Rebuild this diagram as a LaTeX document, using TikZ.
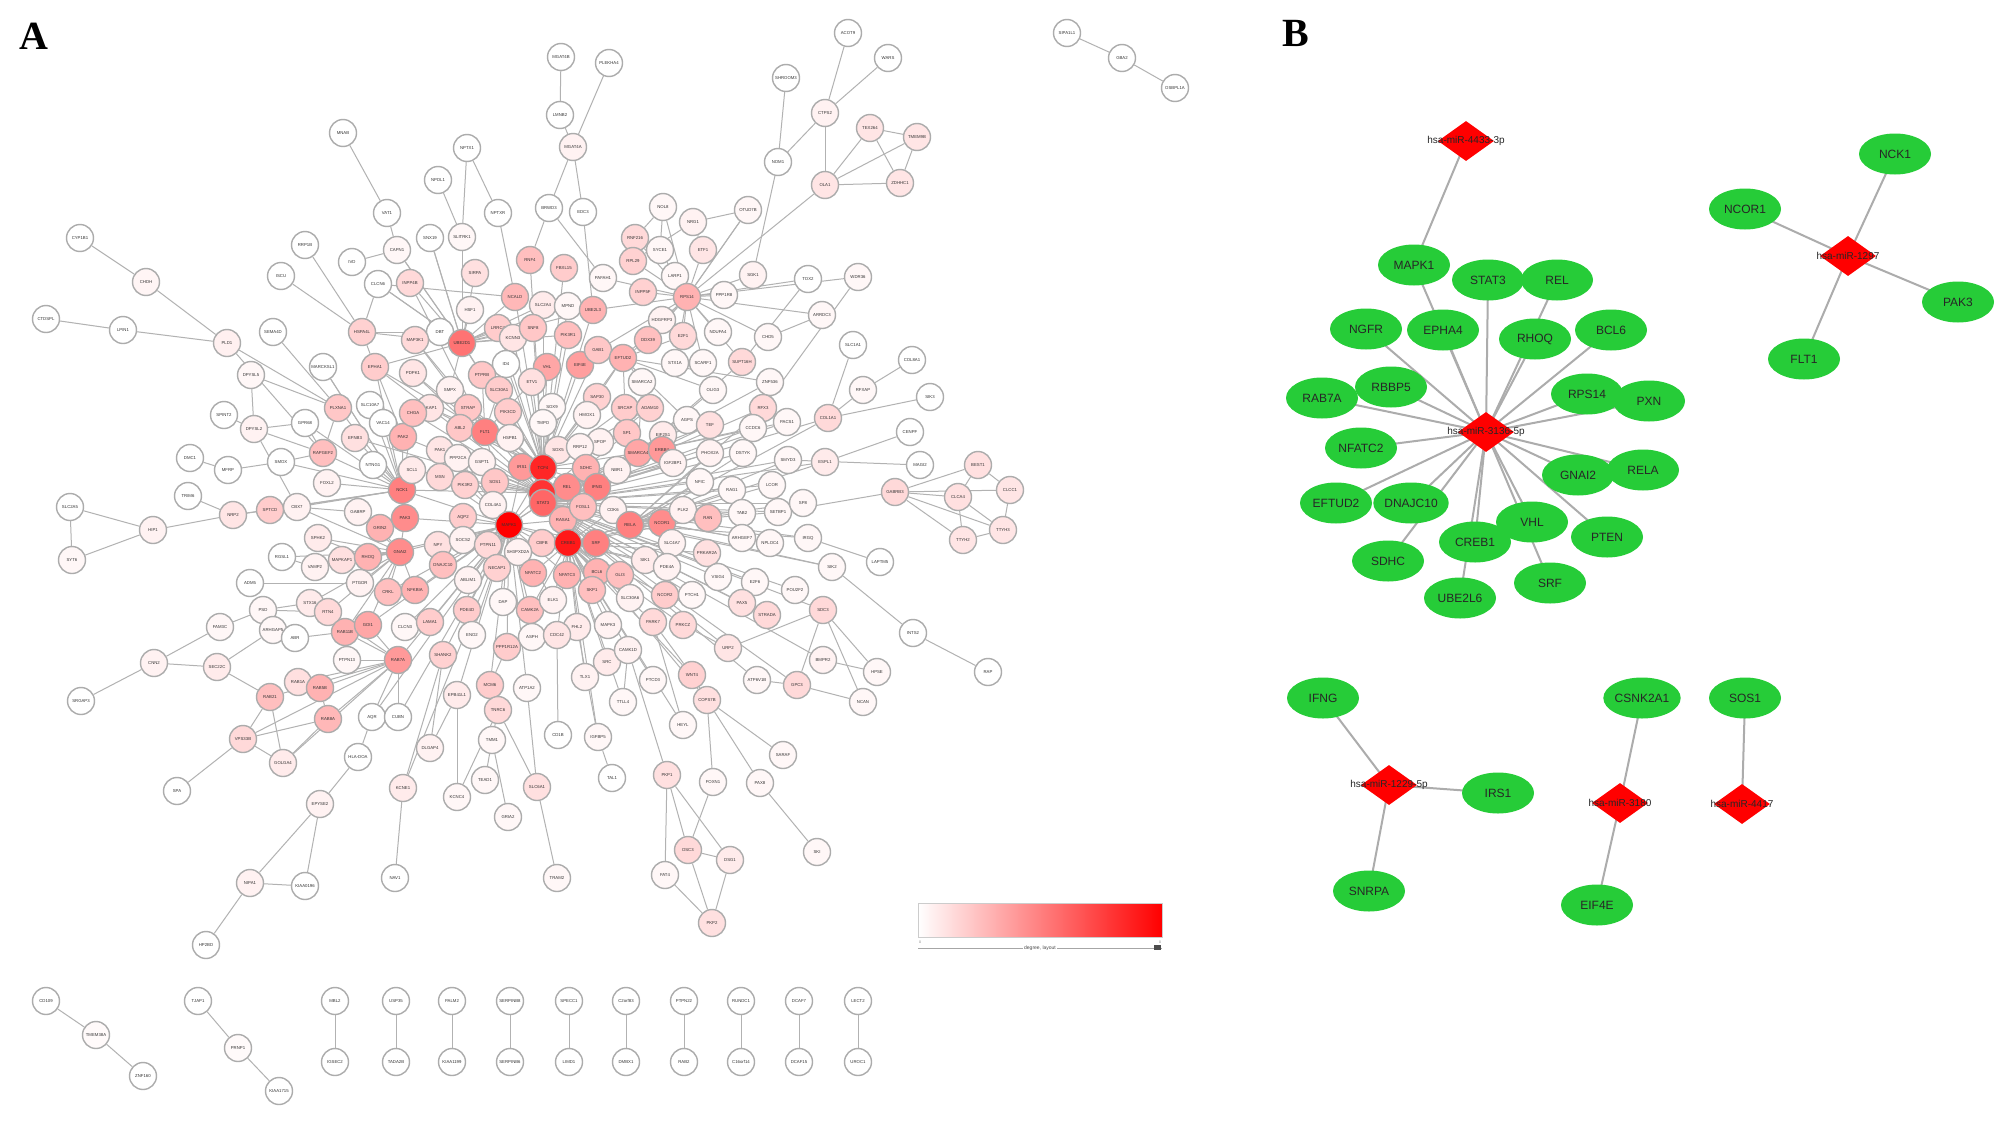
\documentclass[tikz,border=0pt]{standalone}
\usepackage{fontspec}
\setmainfont{Liberation Sans}
\newfontfamily\serifbold{Liberation Serif}
\usetikzlibrary{shapes.geometric,backgrounds}
\definecolor{gnode}{RGB}{38,204,56}
\definecolor{rnode}{RGB}{255,0,0}
\begin{document}
\begin{tikzpicture}[x=1pt,y=-1pt,
  anode/.style={circle,draw=gray!65,line width=1.4pt,minimum size=27pt,inner sep=0pt,
     font=\fontsize{4.3}{4.5}\selectfont,text=black!80},
  edgeA/.style={draw=gray!60,line width=1pt},
  edgeB/.style={draw=gray!65,line width=2pt},
  gell/.style={ellipse,fill=gnode,minimum width=72pt,minimum height=41pt,inner sep=0pt,
     font=\fontsize{12}{12}\selectfont,text=black!85},
  rdia/.style={diamond,fill=rnode,minimum width=56pt,minimum height=40pt,inner sep=0pt},
  dlab/.style={font=\fontsize{10}{10}\selectfont,text=black!85,inner sep=0pt},
  panel/.style={font=\serifbold\bfseries\fontsize{40}{40}\selectfont}
]
\useasboundingbox (0,0) rectangle (2008,1127);
\node[panel] (labA) at (34,36) {A};
\node[panel] (labB) at (1296,33) {B};

% ---------------- Panel A nodes ----------------
\foreach \id/\x/\y/\lab/\s in {
MNAB/343/133/MNAB/0, VAT1/387/213/VAT1/0, CYPB/80/238/CYP1B1/0, CHDH/146/282/CHDH/4,
CTDSPL/46/319/CTDSPL/0, LPIN1/123/330/LPIN1/0, PLD1/227/343/PLD1/6, RRP1B/305/245/RRP1B/0,
IVD/352/262/IVD/0, ISCU/281/276/ISCU/0, CAPN1/397/250/CAPN1/3, CLCN6/378/284/CLCN6/0,
SEMA4D/273/332/SEMA4D/0, HSPA4L/362/332/HSPA4L/18, MARCKSL1/323/367/MARCKSL1/0, DPYSL5/251/375/DPYSL5/3,
EPHA1/375/367/EPHA1/20, PLXNA1/338/408/PLXNA1/22, SLC10A/370/405/SLC10A7/0, VAC14/383/423/VAC14/0,
EFNB3/355/438/EFNB3/12, GPR68/305/423/GPR68/0, DPYSL2/254/429/DPYSL2/5, SPINT/224/415/SPINT2/0,
DMC1/190/458/DMC1/0, MFRP/228/470/MFRP/0, SMOX/281/462/SMOX/0, RAPGEF/323/453/RAPGEF2/25,
NTNG/373/465/NTNG1/0, FOXL2/327/483/FOXL2/5, NCK1/402/490/NCK1/50, PAKA/403/437/PAK2/30,
TRIM6/188/496/TRIM6/0,
SLC2A5/70/507/SLC2A5/0, HIP1/153/530/HIP1/5, SYT6/72/560/SYT6/3, NRP2/233/515/NRP2/10,
SPTCD/270/510/SPTCD/20, CBX7/297/507/CBX7/5, GABRP/358/512/GABRP/5, GRIN/380/528/GRIN2/30,
PAK3/405/518/PAK3/45, GNAI2/400/552/GNAI2/45, SPHK/318/538/SPHK2/8, RGSL1/282/557/RGSL1/0,
VAMP/315/567/VAMP2/5, MAPKAP/342/560/MAPKAP1/12, RHOQ/368/557/RHOQ/30, ADM5/250/583/ADM5/0,
PTGDR/360/583/PTGDR/5, CRKL/388/592/CRKL/25, NFKBIA/415/590/NFKBIA/30, STX16/310/603/STX16/8,
PSD/263/610/PSD/3, RTN/328/612/RTN4/15, FAM3C/220/627/FAM3C/3, ARHGAP/273/630/ARHGAP5/3,
ABR/295/638/ABR/0, RAB11/345/632/RAB11B/30, GDI1/368/625/GDI1/35, CLCN3/405/627/CLCN3/3,
CNN2/154/663/CNN2/5, SEC22C/217/667/SEC22C/8, PTPN13/347/660/PTPN13/3, RAB7A/398/660/RAB7A/40,
SRGAP/81/701/SRGAP3/0, RAB1/298/682/RAB1A/12, RAB5B/320/688/RAB5B/30, RAB21/270/697/RAB21/25,
RAB8A/328/719/RAB8A/28, AQR/372/717/AQR/0, CUBN/398/717/CUBN/0, VPS33/243/739/VPS33B/15,
GOLGA/283/763/GOLGA4/8, HLADOA/358/757/HLA-DOA/0, SPRY2/320/804/EPYSE2/5, KCNE/403/788/KCNE1/8,
SPA/177/791/SPA/0, NIPA1/250/883/NIPA1/5, KIAA/305/886/KIAA0196/0, NAV1/395/878/NAV1/0,
HPGD/206/945/HP2BD/0,
MGATa/561/57/MGAT4B/0, PLEKHA/609/63/PLEKHA4/0, LMNB2/560/115/LMNB2/0, MGATb/573/147/MGAT4A/5,
SHROOM/786/78/SHROOM3/0, CTPS/825/113/CTPS2/5, NOM1/778/162/NOM1/0, OLA1/825/185/OLA1/10,
NPTX1/467/148/NPTX1/0, NPDL1/438/180/NPDL1/0, NPTXR/498/213/NPTXR/0, BRWD/549/208/BRWD3/0,
EDC3/583/212/EDC3/0, SNX19/430/238/SNX19/0, SLITRK/462/237/SLITRK1/3, NOL8/663/207/NOL8/3,
NRG1/693/222/NRG1/5, OTUD/748/210/OTUD7B/3, RNF216/635/238/RNF216/15, SYCE/660/250/SYCE1/3,
ETF1/703/250/ETF1/10, RPL29/633/261/RPL29/18, RNF4/530/260/RNF4/25, FBXL/564/268/FBXL15/20,
PAF/603/278/PAFAH1/3, LARP/675/276/LARP1/3, SGK1/753/275/SGK1/5, TOX2/808/279/TOX2/0,
SIRPA/475/273/SIRPA/12, NCALD/515/297/NCALD/28, RFLP/643/292/INPP5F/18, RPS14/687/297/RPS14/30,
PPP1R8/724/295/PPP1R8/3, HSF1/470/310/HSF1/5, SLC2A4/543/305/SLC2A4/8, MPND/568/306/MPND/3,
UBE2L3/593/310/UBE2L3/30, ARRDC/822/315/ARRDC3/3, DBT/440/332/DBT/0, UBE/462/343/UBE2D1/55,
LRRC/498/328/LRRC4/20, KCNN/513/338/KCNN3/10, SNF8/533/328/SNF8/22, PIK3R1/568/335/PIK3R1/25,
HDGFR/662/320/HDGFRP3/5, DDX/648/340/DDX39/25, E2F1/683/336/E2F1/15, NDUF/718/332/NDUFA4/3,
CHD5/768/337/CHD5/3, ID4/506/364/ID4/0, VHL/547/367/VHL/35, EIF4E/580/365/EIF4E/38,
GAB1/598/350/GAB1/22, EFTUD2/623/358/EFTUD2/30, STX1A/675/363/STX1A/3, SCARF/703/363/SCARF1/3,
SUPT/742/362/SUPT16H/15, PTPRB/482/375/PTPRB/22, ETV1/532/382/ETV1/12, SMARCA2/642/382/SMARCA2/3,
OLIG/713/390/OLIG3/3, ZNF/770/382/ZNF536/3, SMPX/450/390/SMPX/5, SLC30A/499/390/SLC30A1/20,
AKAP/430/408/AKAP1/10, STRAP/468/408/STRAP/22, PIK3CD/508/412/PIK3CD/20, SOX9/552/407/SOX9/3,
SAP30/597/397/SAP30/18, HMOX/587/415/HMOX1/5, SRCAP/625/408/SRCAP/20, ADAM/650/408/ADAM10/18,
AGPS/687/420/AGPS/3, RFX3/763/408/RFX3/15, COL1A1/828/418/COL1A1/15, ABL2/460/428/ABL2/22,
FLT1/485/432/FLT1/50, TMPO/543/423/TMPO/3, TEF/710/425/TEF/12, CCDC/753/428/CCDC6/3,
PACS/787/422/PACS1/3, HSPB/510/438/HSPB1/5, SPOP/600/442/SPOP/5, SP1/627/433/SP1/22,
EIF2/663/435/EIF2S1/8, SOX5/558/450/SOX5/10, RRP12/580/447/RRP12/5, SMARCA4/638/453/SMARCA4/35,
ERBB4/662/450/ERBB4/40, PHOX/710/453/PHOX2A/5, DSTYK/743/453/DSTYK/3, SMYD/788/460/SMYD3/3,
ESPL1/825/462/ESPL1/8, PAK1/440/450/PAK1/10, PPP2/458/458/PPP2CA/5, GSPT/482/462/GSPT1/5,
IRS1/522/467/IRS1/40, TCF/543/468/TCF4/85, SDHC/586/468/SDHC/30, NBR1/617/470/NBR1/5,
IGF2BP/673/463/IGF2BP1/5, MSN/440/477/MSN/15, PIK3R2/465/485/PIK3R2/18, SOS1/495/482/SOS1/22,
REL/567/487/REL/45, IFNG/597/487/IFNG/50, NFIC/700/482/NFIC/3, RAG1/732/490/RAG1/3,
LCOR/772/485/LCOR/3, ESR1/542/493/ESR1/80,
INPP/410/283/INPP4B/15, MAP3K/415/340/MAP3K1/15, PDPK1/413/373/PDPK1/10, CHGA/413/413/CHGA/25,
SCL1/412/470/SCL1/8,
COL4/493/505/COL4A1/5, AQP2/463/517/AQP2/20, MAPK1/509/525/MAPK1/100, STAT3/543/503/STAT3/60,
RASA1/563/520/RASA1/30, FOSL1/583/507/FOSL1/25, CDK6/613/510/CDK6/5, RELA/630/525/RELA/50,
NCOR1/662/523/NCOR1/45, PLK2/683/510/PLK2/5, RAN/708/518/RAN/25, TAB2/742/513/TAB2/3,
SETBP1/778/512/SETBP1/3, SP8/803/503/SP8/3, NPY/438/545/NPY/12, SOCS2/463/540/SOCS2/5,
PTPN11/488/545/PTPN11/15, CBFB/542/543/CBFB/20, CREB1/568/543/CREB1/90, SRF/596/543/SRF/50,
SH3/518/552/SH3PXD2A/5, SLC4A7/672/543/SLC4A7/5, PRKAR/707/553/PRKAR2A/12, ARHGEF/742/538/ARHGEF7/3,
NPL/770/543/NPLOC4/3, IRGQ/808/538/IRGQ/3, SIK2/832/567/SIK2/3, DNAJC10/443/565/DNAJC10/25,
NECAP/497/568/NECAP1/18, NFATC2/533/573/NFATC2/30, NFATC3/567/575/NFATC3/30, BCL6/597/572/BCL6/30,
GLI3/620/575/GLI3/25, SIK1/645/560/SIK1/8, PDE4A/667/567/PDE4A/5, VSIG4/718/577/VSIG4/3,
E2F6/755/582/E2F6/3, POU2F/795/590/POU2F2/3, SDC3/823/610/SDC3/15, ABLIM/468/580/ABLIM1/5,
SKP1/592/590/SKP1/25, SLC30/630/598/SLC30A6/5, NCOR2/665/595/NCOR2/20, PTCH1/692/595/PTCH1/3,
PAX5/742/603/PAX5/12, STRADA/767/615/STRADA/15, DAP/503/602/DAP/3, CAMK2A/530/610/CAMK2A/25,
ELK1/553/600/ELK1/5, PDE4D/467/610/PDE4D/20, LAMA1/430/622/LAMA1/20, FHL2/577/627/FHL2/8,
MAPK3/608/625/MAPK3/5, PARK7/653/622/PARK7/15, PRKCZ/683/625/PRKCZ/15, ENO2/472/635/ENO2/3,
ASPH/532/637/ASPH/3, CDC42/557/635/CDC42/10, PPP1R12/507/647/PPP1R12A/20, URP2/728/648/URP2/10,
SHANK2/443/655/SHANK2/18, SRC/607/662/SRC/8, CAMK1D/628/650/CAMK1D/5, BMPR2/823/660/BMPR2/5,
TLX1/585/677/TLX1/5, PTCD3/653/680/PTCD3/3, WNT4/692/675/WNT4/18, ATP6V/757/680/ATP6V1B/3,
GPC3/797/685/GPC3/15, MCM6/490/685/MCM6/20, ATP1A2/527/688/ATP1A2/3, EPB41L1/457/695/EPB41L1/8,
TTLL4/623/702/TTLL4/3, COPS7/707/700/COPS7B/12, TNRC6/498/710/TNRC6/15, HEYL/683/725/HEYL/3,
TBM1/492/740/TMM1/3, CD1B/558/735/CD1B/0, IGFBP5/598/737/IGFBP5/3, DLGAP/430/748/DLGAP4/5,
SARAF/783/755/SARAF/3, TEAD1/485/780/TEAD1/3, TAL1/612/778/TAL1/0, PKP1/667/775/PKP1/12,
FOXN1/713/782/FOXN1/3, PAX8/760/783/PAX8/3, KCNC4/457/797/KCNC4/3, SLC6A1/537/787/SLC6A1/12,
GRIA2/508/817/GRIA2/3, DSC3/688/850/DSC3/15, DSG1/730/860/DSG1/8, SKI/817/852/SKI/3,
TRAM2/557/878/TRAM2/3, FAT4/665/875/FAT4/3, PKP2/712/923/PKP2/12,
ACOT9/848/33/ACOT9/0, WARS/888/58/WARS/0, TEX264/870/128/TEX264/10, TMEM9B/917/137/TMEM9B/10,
ZDHHC1/900/183/ZDHHC1/10, WDR36/858/277/WDR36/3, SLC1A1/853/345/SLC1A1/0, COL8A1/912/360/COL8A1/0,
RFXAP/863/390/RFXAP/3, SIK3/930/397/SIK3/0, CENPF/910/432/CENPF/0, MAGI2/920/465/MAGI2/0,
BEST1/978/465/BEST1/12, CLCC1/1010/490/CLCC1/10, GABRB/895/492/GABRB3/15, CLCA/958/497/CLCA4/12,
TTYH2/963/540/TTYH2/10, TTYH3/1003/530/TTYH3/10, LAPTM5/880/562/LAPTM5/0, INTS2/913/633/INTS2/0,
RAP/988/672/RAP/0, HPSE/877/672/HPSE/3, NCAN/863/702/NCAN/3,
SIPA/1067/33/SIPA1L1/0, GBA2/1122/58/GBA2/0, OSBPL/1175/88/OSBPL1A/0,
Qa/46/1001/CD109/0, Qb/96/1035/TMEM38A/2, Qc/143/1076/ZNF160/0,
Qd/198/1001/TJAP1/0, Qe/238/1048/PRNP1/2, Qf/279/1091/KIAA1715/0,
Qg1/335/1001/MBL2/0, Qg2/335/1062/IGSEC2/0, Qh1/396/1001/USP35/0, Qh2/396/1062/TADA2B/0,
Qi1/452/1001/PALM2/0, Qi2/452/1062/KIAA1199/0, Qj1/510/1001/SERPINB8/0, Qj2/510/1062/SERPINB6/0,
Qk1/569/1001/SPECC1/0, Qk2/569/1062/LIMD1/0, Ql1/626/1001/C2orf83/0, Ql2/626/1062/DMBX1/0,
Qm1/684/1001/PTPN22/0, Qm2/684/1062/RAB2/0, Qn1/741/1001/RUNDC1/0, Qn2/741/1062/C16orf14/0,
Qo1/799/1001/DCAF7/0, Qo2/799/1062/DCAF15/0, Qp1/858/1001/LECT2/0, Qp2/858/1062/UROC1/0}
  \node[anode,fill=red!\s!white] (\id) at (\x,\y) {\lab};

% ---------------- Panel B nodes ----------------
\node[rdia] (D4433) at (1466,141) {};
\node[dlab] at (D4433) {hsa-miR-4433-3p};
\node[rdia] (D3136) at (1486,432) {};
\node[dlab] at (D3136) {hsa-miR-3136-5p};
\node[rdia] (D1297) at (1848,256) {};
\node[dlab] at (D1297) {hsa-miR-1297};
\node[rdia] (D1229) at (1389,785) {};
\node[dlab] at (D1229) {hsa-miR-1229-5p};
\node[rdia] (D3180) at (1620,803) {};
\node[dlab] at (D3180) {hsa-miR-3180};
\node[rdia] (D4417) at (1742,804) {};
\node[dlab] at (D4417) {hsa-miR-4417};

\foreach \id/\x/\y/\lab in {
bMAPK1/1414/265/MAPK1, bSTAT3/1488/280/STAT3, bREL/1557/280/REL, bNGFR/1366/329/NGFR,
bEPHA4/1443/330/EPHA4, bRHOQ/1535/339/RHOQ, bBCL6/1611/330/BCL6, bRBBP5/1391/387/RBBP5,
bRAB7A/1322/398/RAB7A, bRPS14/1587/394/RPS14, bPXN/1649/401/PXN, bNFATC2/1361/448/NFATC2,
bGNAI2/1578/475/GNAI2, bRELA/1643/470/RELA, bEFTUD2/1336/503/EFTUD2, bDNAJC10/1411/503/DNAJC10,
bVHL/1532/522/VHL, bPTEN/1607/537/PTEN, bCREB1/1475/542/CREB1, bSDHC/1388/561/SDHC,
bSRF/1550/583/SRF, bUBE2L6/1460/598/UBE2L6,
bNCK1/1895/154/NCK1, bNCOR1/1745/209/NCOR1, bPAK3/1958/302/PAK3, bFLT1/1804/359/FLT1,
bIFNG/1323/698/IFNG, bIRS1/1498/793/IRS1, bSNRPA/1369/891/SNRPA,
bCSNK2A1/1642/698/CSNK2A1, bEIF4E/1597/905/EIF4E, bSOS1/1745/698/SOS1}
  \node[gell] (\id) at (\x,\y) {\lab};

% ---------------- Legend ----------------
\shade[left color=white,right color=rnode,draw=gray!40,line width=0.6pt] (918,903) rectangle (1162,937);
\node[font=\fontsize{3.5}{4}\selectfont,text=gray,inner sep=0pt] (lg0) at (920,942) {0};
\node[font=\fontsize{3.5}{4}\selectfont,text=gray,inner sep=0pt] (lg1) at (1160,942) {0};
\coordinate (axL) at (918,948);
\coordinate (axR) at (1162,948);
\draw[gray!70,line width=0.8pt] (axL) -- (axR);
\fill[black!70] (1154,945) rectangle (1161,950);
\node[fill=white,font=\fontsize{5}{5}\selectfont,text=black!70,inner sep=1pt] (lgt) at (1040,948) {degree, layout};

% ---------------- Edges ----------------
\begin{scope}[on background layer]
\fill[white] (0,0) rectangle (2008,1127);
\foreach \a/\b in {
MNAB/VAT1, VAT1/CAPN1, CYPB/CHDH, CHDH/PLD1, CTDSPL/LPIN1, LPIN1/PLD1, PLD1/PLXNA1, PLD1/RAPGEF,
RRP1B/HSPA4L, ISCU/HSPA4L, HSPA4L/CLCN6, HSPA4L/DBT, HSPA4L/EPHA1, IVD/CAPN1, CAPN1/UBE, CLCN6/UBE,
CLCN6/NCALD, SEMA4D/PLXNA1, MARCKSL1/NCK1, DPYSL5/DPYSL2, DPYSL5/PLXNA1, EPHA1/UBE, EPHA1/PAKA,
PLXNA1/RAPGEF, SPINT/DPYSL2, DPYSL2/RAPGEF, DPYSL2/GPR68, DPYSL2/CBX7, DMC1/MFRP, MFRP/SMOX,
SMOX/RAPGEF, GPR68/RAPGEF, TRIM6/NRP2, SLC2A5/SYT6, SLC2A5/HIP1, SYT6/HIP1, HIP1/NRP2, NRP2/SPTCD,
SPTCD/CBX7, CBX7/GABRP, GABRP/GRIN, GRIN/PAK3, SPHK/RHOQ, RGSL1/VAMP, VAMP/RHOQ, MAPKAP/RHOQ,
ADM5/PTGDR, STX16/PSD, STX16/RAB11, FAM3C/PSD, FAM3C/CNN2, CNN2/SEC22C, SRGAP/CNN2, SEC22C/ARHGAP,
SEC22C/RAB21, ARHGAP/ABR, ABR/RAB11, PSD/RTN, RTN/RAB11,
VPS33/SPA, VPS33/RAB21, VPS33/RAB8A, VPS33/GOLGA, GOLGA/RAB21, GOLGA/RAB8A, RAB1/RAB5B, RAB5B/RAB8A,
HLADOA/SPRY2, HLADOA/AQR, SPRY2/NIPA1, SPRY2/KIAA, NIPA1/KIAA, NIPA1/HPGD, KCNE/NAV1, KCNE/SHANK2,
MGATa/LMNB2, LMNB2/MGATb, PLEKHA/MGATb, MGATb/BRWD, MGATb/EDC3, SHROOM/NOM1, CTPS/NOM1, CTPS/OLA1,
ACOT9/CTPS, WARS/CTPS, NOM1/SGK1, OLA1/RPS14, NPTX1/SLITRK, NPTX1/NPTXR, NPDL1/SLITRK, NPTXR/NCALD,
SNX19/UBE, SLITRK/UBE, BRWD/RNF4, BRWD/PAF, EDC3/UBE2L3, NOL8/SYCE, NOL8/RNF216, NRG1/ETF1,
NRG1/RPL29, OTUD/RPS14, OTUD/NRG1, TEX264/TMEM9B, TEX264/ZDHHC1, TMEM9B/ZDHHC1, TEX264/OLA1,
TMEM9B/OLA1, ZDHHC1/OLA1, TOX2/SUPT, ARRDC/CHD5, WDR36/RFX3, COL8A1/RFXAP, RFXAP/COL1A1,
SIK3/COL1A1, CENPF/ESPL1, MAGI2/SMYD, SLC1A1/COL1A1,
GABRB/BEST1, GABRB/CLCC1, GABRB/TTYH2, GABRB/CLCA, GABRB/TTYH3, BEST1/CLCA, BEST1/CLCC1,
CLCA/TTYH2, CLCA/TTYH3, CLCC1/TTYH3, TTYH2/TTYH3, GABRB/SETBP1, LAPTM5/IRGQ, INTS2/RAP,
INTS2/SIK2, HPSE/SDC3, NCAN/SDC3, HPSE/BMPR2, NCAN/GPC3,
CD1B/CDC42, IGFBP5/FHL2, TAL1/IGFBP5, TBM1/TNRC6, TBM1/TEAD1, GRIA2/TBM1, TNRC6/MCM6,
MCM6/PPP1R12, TRAM2/SLC6A1, SLC6A1/ATP1A2, SLC6A1/TNRC6, KCNC4/EPB41L1, DLGAP/EPB41L1,
DLGAP/SHANK2, KCNC4/TNRC6, PKP1/DSC3, PKP1/DSG1, PKP1/FAT4, PKP1/CAMK1D, FAT4/PKP2, DSC3/DSG1,
DSC3/PKP2, DSG1/PKP2, FOXN1/DSC3, FOXN1/COPS7, PAX8/SKI, PAX8/COPS7, SARAF/COPS7, HEYL/PARK7,
COPS7/WNT4, WNT4/PARK7, ATP6V/GPC3, URP2/SDC3, URP2/PRKCZ, GPC3/SDC3, SIPA/GBA2, GBA2/OSBPL,
TLX1/SRC, TTLL4/CAMK1D,
Qa/Qb, Qb/Qc, Qd/Qe, Qe/Qf, Qg1/Qg2, Qh1/Qh2, Qi1/Qi2, Qj1/Qj2, Qk1/Qk2, Ql1/Ql2, Qm1/Qm2,
Qn1/Qn2, Qo1/Qo2, Qp1/Qp2}
  \draw[edgeA] (\a) -- (\b);
\foreach \t in {RAB1,RAB5B,RAB21,RAB8A,VPS33,GOLGA,AQR,CUBN,RAB11,GDI1,PTPN13,RTN}
  \draw[edgeA] (RAB7A) -- (\t);
\foreach \t in {PAK3,GNAI2,NFKBIA,CRKL,RAB7A,NCK1,FLT1,IRS1,TCF,ESR1,STAT3,CREB1,AQP2,NPY,SOCS2,
  PTPN11,SH3,CBFB,DNAJC10,NECAP,NFATC2,ABLIM,DAP,PDE4D,LAMA1,CAMK2A,ELK1,ENO2,ASPH,PPP1R12,SHANK2,
  MCM6,ATP1A2,EPB41L1,SOS1,PIK3R2,MSN,PAK1,PPP2,GSPT,COL4,RASA1,REL,SRF,GDI1,RHOQ,CLCN3,CUBN,
  NFATC3,KCNE,AQR}
  \draw[edgeA] (MAPK1) -- (\t);
\foreach \t in {TCF,ESR1,STAT3,RELA,NCOR1,SRF,BCL6,GLI3,SKP1,SLC30,NCOR2,FHL2,MAPK3,SRC,CAMK1D,
  TLX1,PTCD3,CDC42,FOSL1,CDK6,RASA1,IFNG,REL,SDHC,NBR1,SIK1,PDE4A,PLK2,RAN,SLC4A7,PRKAR,PARK7,
  PRKCZ,WNT4,TTLL4,NFATC2,NFATC3,CBFB,SH3,ELK1,CAMK2A,HEYL,IGFBP5}
  \draw[edgeA] (CREB1) -- (\t);
\foreach \t in {UBE,FLT1,VHL,EIF4E,ID4,ETV1,SLC30A,PIK3CD,SOX9,SAP30,HMOX,TMPO,HSPB,SPOP,SP1,SOX5,
  RRP12,IRS1,SDHC,REL,IFNG,ABL2,STRAP,AKAP,SMPX,PTPRB,PIK3R1,SNF8,KCNN,LRRC,NCALD,GAB1,EFTUD2,
  UBE2L3,MPND,SLC2A4,FBXL,RNF4,ESR1,SRCAP,ADAM,SMARCA4}
  \draw[edgeA] (TCF) -- (\t);
\foreach \t in {NCK1,PAKA,CHGA,SCL1,PDPK1,MAP3K,EPHA1,EFNB3,MSN,PIK3R2,SOS1,PAK1,PPP2,GSPT,IRS1,
  RASA1,FOSL1,STAT3,SMARCA4,ERBB4,NBR1,IGF2BP,ADAM}
  \draw[edgeA] (ESR1) -- (\t);
\foreach \t in {RELA,NCOR1,SMARCA4,ERBB4,EIF2,SP1,IGF2BP,PHOX,DSTYK,RFX3,COL1A1,TEF,CCDC,PACS,SMYD,
  ESPL1,NFIC,RAG1,LCOR,TAB2,SETBP1,SP8,IRGQ,SIK2,ARHGEF,NPL,VSIG4,E2F6,POU2F,SDC3,PAX5,STRADA,URP2,
  PTCH1,BMPR2,ATP6V,GPC3,COPS7}
  \draw[edgeA] (STAT3) -- (\t);
\foreach \t in {DBT,HSF1,SIRPA,SNX19,SLITRK,CAPN1,CLCN6,INPP,HSPA4L,NCALD,LRRC,KCNN,SNF8,PIK3R1,
  SLC2A4,MPND,UBE2L3,PTPRB,SMPX}
  \draw[edgeA] (UBE) -- (\t);
\foreach \t in {NOL8,RNF216,SYCE,ETF1,RPL29,LARP,PPP1R8,RFLP,HDGFR,DDX,E2F1,NDUF,CHD5,GAB1,EFTUD2,
  SGK1,STX1A,SCARF,SUPT,OTUD,PAF,UBE2L3,TOX2,ARRDC,WDR36}
  \draw[edgeA] (RPS14) -- (\t);
\foreach \t in {DDX,E2F1,SMARCA2,OLIG,ZNF,SAP30,SRCAP,AGPS}
  \draw[edgeA] (EFTUD2) -- (\t);
\foreach \t in {PAKA,PLXNA1,SPTCD,NRP2,RAPGEF,NTNG,FOXL2,MARCKSL1,GPR68,SCL1,CHGA,EPHA1,SLC10A,
  VAC14,EFNB3,SMOX,CBX7}
  \draw[edgeA] (NCK1) -- (\t);
\foreach \t in {ABL2,STRAP,AKAP,PDPK1,MAP3K,SLC30A,PTPRB,ETV1,EPHA1,INPP}
  \draw[edgeA] (FLT1) -- (\t);
\foreach \t in {GRIN,GABRP,CBX7,SPHK,RGSL1,MAPKAP,RHOQ,VAMP,NFKBIA,CRKL,PTGDR,STX16,RAB11,RTN,GDI1,PAK3}
  \draw[edgeA] (GNAI2) -- (\t);
\foreach \t in {NCOR1,RAN,TAB2,PLK2,SETBP1,SP8,SIK2,IRGQ,NFIC,RAG1,LCOR,PHOX,DSTYK,SMYD,ESPL1,COL1A1,RFX3}
  \draw[edgeA] (RELA) -- (\t);
\foreach \t in {SMARCA2,OLIG,ZNF,AGPS,TEF,CCDC,PACS,SUPT}
  \draw[edgeA] (SMARCA4) -- (\t);
% panel B edges
\foreach \t in {bMAPK1,bSTAT3,bREL,bNGFR,bEPHA4,bRHOQ,bBCL6,bRBBP5,bRAB7A,bRPS14,bPXN,bNFATC2,
  bGNAI2,bRELA,bEFTUD2,bDNAJC10,bVHL,bPTEN,bCREB1,bSDHC,bSRF,bUBE2L6}
  \draw[edgeB] (D3136.center) -- (\t.center);
\draw[edgeB] (D4433.center) -- (bMAPK1.center);
\foreach \t in {bNCK1,bNCOR1,bPAK3,bFLT1}
  \draw[edgeB] (D1297.center) -- (\t.center);
\foreach \t in {bIFNG,bIRS1,bSNRPA}
  \draw[edgeB] (D1229.center) -- (\t.center);
\draw[edgeB] (D3180.center) -- (bCSNK2A1.center);
\draw[edgeB] (D3180.center) -- (bEIF4E.center);
\draw[edgeB] (D4417.center) -- (bSOS1.center);
\end{scope}
\end{tikzpicture}
\end{document}
